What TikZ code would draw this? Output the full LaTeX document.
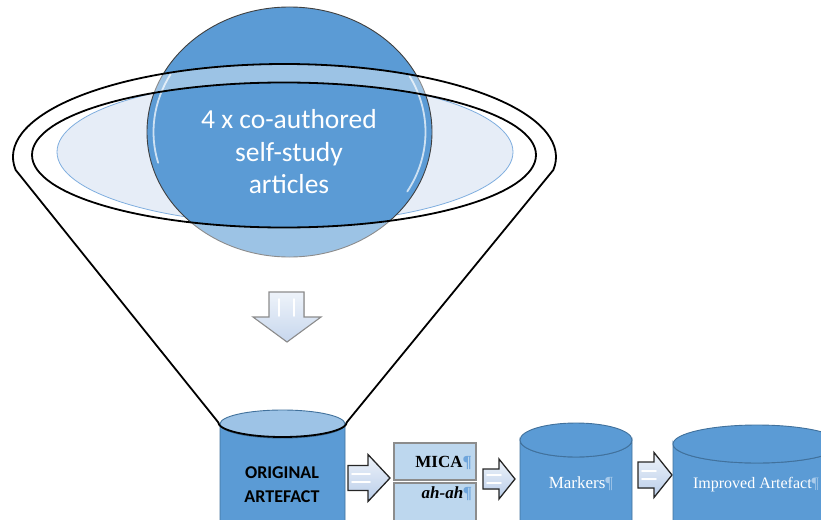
\documentclass[tikz,border=0pt]{standalone}
\usepackage{fontspec}
\setmainfont{Liberation Serif}
\newfontfamily\calib{Carlito}
\definecolor{obl}{HTML}{5B9BD5}
\definecolor{obd}{HTML}{41719C}
\definecolor{olt}{HTML}{9DC3E6}
\definecolor{pale}{HTML}{E6EDF7}
\definecolor{paleedge}{HTML}{7FAEDF}
\definecolor{boxf}{HTML}{BDD7EE}
\definecolor{pil}{HTML}{6FA5DC}
\definecolor{pilw}{HTML}{A9CBEB}
\definecolor{arrtop}{HTML}{EEF3FA}
\definecolor{arrbot}{HTML}{B9CDE9}
\tikzset{
  funnelline/.style={draw=black, line width=1.8pt, line join=round},
  rarrowstyle/.style={top color=arrtop, bottom color=arrbot, draw=black!85, line width=1.3pt, line join=miter},
  darrowstyle/.style={top color=arrtop, bottom color=arrbot!80, draw=black!45, line width=1.1pt, line join=miter},
  cylbody/.style={fill=obl, draw=obd, line width=0.9pt},
  boxstyle/.style={fill=boxf, draw=black!45, line width=1.1pt},
  hilite/.style={draw=white, line width=1.6pt, line cap=round},
  gloss/.style={draw=white, opacity=0.7, line width=1.8pt, line cap=round},
}
\newcommand\mycyl[5]{%
  \filldraw[cylbody] ({#1-#3},#2) -- ({#1-#3},545) -- ({#1+#3},545) -- ({#1+#3},#2)
     arc[start angle=0, end angle=180, x radius=#3, y radius=#4] -- cycle;
  \filldraw[cylbody, fill=#5] (#1,#2) ellipse [x radius=#3, y radius=#4];}
\newcommand\myrarrow[6]{%
  \filldraw[rarrowstyle] (#1,{#4-#5}) -- (#2,{#4-#5}) -- (#2,{#4-#6}) -- (#3,#4)
     -- (#2,{#4+#6}) -- (#2,{#4+#5}) -- (#1,{#4+#5}) -- cycle;
  \draw[hilite] ({#1+4},{#4-4}) -- ({#2+2},{#4-4});
  \draw[hilite] ({#1+4},{#4+4}) -- ({#2+2},{#4+4});}
\begin{document}
\begin{tikzpicture}[x=1pt, y=-1pt]
\path[use as bounding box] (0,0) rectangle (821,519);
\clip (0,0) rectangle (821,519);

% pale inner ellipse
\begin{scope}
  \clip (284,155) ellipse [x radius=252, y radius=72.5];
  \filldraw[fill=pale, draw=paleedge, line width=0.8pt] (285,152) ellipse [x radius=228, y radius=72];
\end{scope}

% big circle
\fill[obl] (289.5,132) ellipse [x radius=142.5, y radius=125];
\draw[gloss] (289.5,132) ++(209:136 and 119) arc[start angle=209, end angle=165, x radius=136, y radius=119];
\draw[gloss] (289.5,132) ++(332:136 and 119) arc[start angle=332, end angle=390, x radius=136, y radius=119];
\draw[black!75, line width=0.9pt] (289.5,132) ellipse [x radius=142.5, y radius=125];

% funnel translucent body
\fill[white, fill opacity=0.4, even odd rule]
  (284.5,157) ++(172:271.5 and 93) arc[start angle=172, end angle=368, x radius=271.5, y radius=93]
  -- (347,422) arc[start angle=0, end angle=180, x radius=64.5, y radius=15] -- cycle
  (284,155) ellipse [x radius=252, y radius=72.5];

% circle text
\node[font=\calib\fontsize{27.5}{32}\selectfont, text=white, anchor=base, inner sep=0] (c1) at (289,128) {4 x co-authored};
\node[font=\calib\fontsize{27.5}{32}\selectfont, text=white, anchor=base, inner sep=0] (c2) at (289,161) {self-study};
\node[font=\calib\fontsize{27.5}{32}\selectfont, text=white, anchor=base, inner sep=0] (c3) at (289,193) {articles};

% down arrow
\filldraw[darrowstyle] (269,292) -- (304,292) -- (304,317) -- (321,317) -- (287,342) -- (253,317) -- (269,317) -- cycle;
\draw[hilite] (279,299) -- (279,316);
\draw[hilite] (294,299) -- (294,316);

% original artefact cylinder
\mycyl{282.5}{424}{62.5}{14}{olt}

% funnel outlines
\draw[funnelline]
  (284.5,157) ++(172:271.5 and 93) arc[start angle=172, end angle=368, x radius=271.5, y radius=93]
  -- (347,422) arc[start angle=0, end angle=180, x radius=64.5, y radius=15] -- cycle;
\draw[funnelline] (284,155) ellipse [x radius=252, y radius=72.5];

\node[font=\calib\bfseries\fontsize{18}{22}\selectfont, anchor=base, inner sep=0] (o1) at (282,478) {ORIGINAL};
\node[font=\calib\bfseries\fontsize{18}{22}\selectfont, anchor=base, inner sep=0] (o2) at (282,502) {ARTEFACT};

% arrows
\myrarrow{348}{368}{390}{478}{12.5}{23.5}
\myrarrow{483}{499}{515}{479}{10}{20}
\myrarrow{638}{654}{672}{475}{13}{22.5}

% boxes
\filldraw[boxstyle] (394,443) rectangle (476,480);
\filldraw[boxstyle] (394,483) rectangle (476,530);
\node[font=\bfseries\fontsize{17}{20}\selectfont, anchor=base east, inner sep=0] (mica) at (472,467) {MICA{\color{pil}¶}};
\node[font=\bfseries\itshape\fontsize{17}{20}\selectfont, anchor=base east, inner sep=0] (ahah) at (472,498) {ah-ah{\color{pil}¶}};

% markers & improved cylinders
\mycyl{576}{440}{56}{17}{obl}
\mycyl{757}{444}{84}{19}{obl}
\node[font=\fontsize{17}{20}\selectfont, text=white, anchor=base, inner sep=0] (mk) at (581,488) {Markers{\color{pilw}¶}};
\node[font=\fontsize{16}{20}\selectfont, text=white, anchor=base, inner sep=0] (imp) at (756,488) {Improved Artefact{\color{pilw}¶}};
\end{tikzpicture}
\end{document}
